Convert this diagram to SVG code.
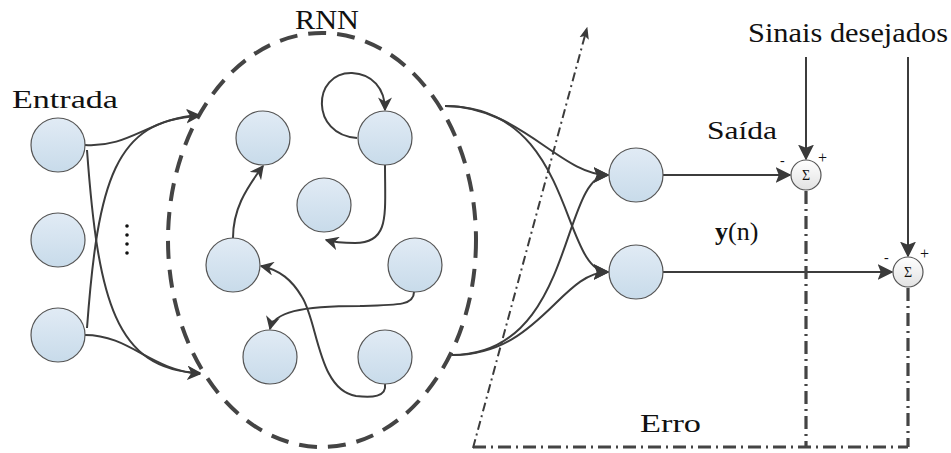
<svg xmlns="http://www.w3.org/2000/svg" width="951" height="453" viewBox="0 0 951 453">
<defs>
<linearGradient id="nodeGrad" x1="0" y1="0" x2="0" y2="1">
<stop offset="0" stop-color="#e1ebf5"/>
<stop offset="1" stop-color="#c8dbea"/>
</linearGradient>
<linearGradient id="sumGrad" x1="0" y1="0" x2="0" y2="1">
<stop offset="0" stop-color="#ffffff"/>
<stop offset="1" stop-color="#e2e2e2"/>
</linearGradient>
<marker id="arr" viewBox="0 0 10 10" refX="9" refY="5" markerWidth="7" markerHeight="7" markerUnits="strokeWidth" orient="auto">
<path d="M0,0 L10,5 L0,10 L3,5 Z" fill="#3a3a3a"/>
</marker>
<marker id="arrBig" viewBox="0 0 10 10" refX="9" refY="5" markerWidth="8" markerHeight="8" markerUnits="strokeWidth" orient="auto">
<path d="M0,0 L10,5 L0,10 L2,5 Z" fill="#3a3a3a"/>
</marker>
<marker id="arrSmall" viewBox="0 0 10 10" refX="9" refY="5" markerWidth="6" markerHeight="6" markerUnits="strokeWidth" orient="auto">
<path d="M0,1 L10,5 L0,9 L2,5 Z" fill="#3a3a3a"/>
</marker>
</defs>
<style>
.node{fill:url(#nodeGrad);stroke:#555;stroke-width:1.2}
.sum{fill:url(#sumGrad);stroke:#555;stroke-width:1.2}
.ca{fill:none;stroke:#3c3c3c;stroke-width:2;marker-end:url(#arr)}
.cb{fill:none;stroke:#3c3c3c;stroke-width:2;marker-end:url(#arrBig)}
.dd{fill:none;stroke:#444;stroke-width:3.2;stroke-dasharray:13 5 2 5}
.lbl{font-family:"Liberation Serif","DejaVu Serif",serif;fill:#111}
</style>

<!-- RNN boundary -->
<ellipse cx="322" cy="240" rx="154" ry="207" fill="none" stroke="#444" stroke-width="4" stroke-dasharray="18 11"/>

<!-- labels -->
<text class="lbl" x="12" y="108" font-size="26" textLength="106" lengthAdjust="spacingAndGlyphs">Entrada</text>
<text class="lbl" x="295" y="29" font-size="27" textLength="64" lengthAdjust="spacingAndGlyphs">RNN</text>
<text class="lbl" x="748" y="42" font-size="27" textLength="200" lengthAdjust="spacingAndGlyphs">Sinais desejados</text>
<text class="lbl" x="707" y="139" font-size="25" textLength="70" lengthAdjust="spacingAndGlyphs">Saída</text>
<text class="lbl" x="715" y="240" font-size="26"><tspan font-weight="bold">y</tspan>(n)</text>
<text class="lbl" x="640" y="432" font-size="25" textLength="61" lengthAdjust="spacingAndGlyphs">Erro</text>
<text class="lbl" x="780" y="165" font-size="14">-</text>
<text class="lbl" x="818" y="163" font-size="16">+</text>
<text class="lbl" x="884" y="262" font-size="14">-</text>
<text class="lbl" x="920" y="259" font-size="16">+</text>

<!-- ellipsis dots -->
<g fill="#111">
<circle cx="127" cy="226" r="1.8"/>
<circle cx="127" cy="235" r="1.8"/>
<circle cx="127" cy="244" r="1.8"/>
<circle cx="127" cy="253" r="1.8"/>
</g>

<!-- connectors -->
<g id="connectors">
<!-- inputs to RNN -->
<path class="ca" d="M85,145 C130,148 150,118 199,115"/>
<path class="ca" d="M87,328 C98,180 115,120 199,116"/>
<path class="ca" d="M87,150 C98,300 115,370 200,373"/>
<path class="ca" d="M85,335 C130,335 150,370 200,374"/>
<!-- internal recurrent -->
<path class="ca" d="M357,138 C310,135 312,72 352,73 C372,74 385,88 385,110"/>
<path class="ca" d="M385,165 C385,215 390,243 355,243 C340,243 333,242 326,240"/>
<path class="ca" d="M233,238 C233,210 245,190 263,166"/>
<path class="ca" d="M414,292 C414,305 400,305 360,306 C300,306 274,312 270,329"/>
<path class="ca" d="M385,384 C387,397 372,398 356,396 C318,390 318,322 302,297 C292,280 280,270 261,266"/>
<!-- RNN to outputs -->
<path class="cb" d="M445,106 C520,106 560,175 608,175"/>
<path class="cb" d="M445,106 C575,106 560,272 608,272"/>
<path class="cb" d="M452,355 C575,355 560,175 608,175"/>
<path class="cb" d="M452,355 C540,355 560,272 608,272"/>
<!-- outputs to sums -->
<path class="cb" d="M663,175 L790,175"/>
<path class="cb" d="M663,272 L892,272"/>
<!-- desired signals -->
<path class="cb" d="M806,57 L806,159"/>
<path class="cb" d="M908,57 L908,256"/>
<!-- error paths -->
<path class="dd" d="M806,191 L806,447"/>
<path class="dd" d="M908,288 L908,447"/>
<path class="dd" d="M473,447 L908,447"/>
<path fill="none" stroke="#3c3c3c" stroke-width="2" stroke-dasharray="9 4 2 4" marker-end="url(#arrSmall)" d="M473,448 L587,28"/>
</g>

<!-- input nodes -->
<g id="in1"><circle class="node" cx="58" cy="145" r="27"/></g>
<g id="in2"><circle class="node" cx="58" cy="240" r="27"/></g>
<g id="in3"><circle class="node" cx="58" cy="335" r="27"/></g>

<!-- RNN nodes -->
<g id="r1"><circle class="node" cx="263" cy="138" r="27"/></g>
<g id="r2"><circle class="node" cx="385" cy="138" r="27"/></g>
<g id="r3"><circle class="node" cx="324" cy="205" r="27"/></g>
<g id="r4"><circle class="node" cx="233" cy="265" r="27"/></g>
<g id="r5"><circle class="node" cx="415" cy="265" r="27"/></g>
<g id="r6"><circle class="node" cx="270" cy="357" r="27"/></g>
<g id="r7"><circle class="node" cx="385" cy="357" r="27"/></g>

<!-- output nodes -->
<g id="out1"><circle class="node" cx="636" cy="175" r="27"/></g>
<g id="out2"><circle class="node" cx="636" cy="272" r="27"/></g>

<!-- summing junctions -->
<g id="sum1"><circle class="sum" cx="806" cy="175" r="15"/><text class="lbl" x="806" y="180" font-size="14" text-anchor="middle">Σ</text></g>
<g id="sum2"><circle class="sum" cx="908" cy="272" r="15"/><text class="lbl" x="908" y="277" font-size="14" text-anchor="middle">Σ</text></g>
</svg>
